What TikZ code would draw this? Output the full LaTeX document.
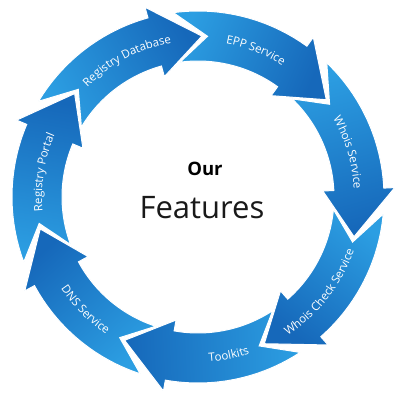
\documentclass[tikz,border=0pt]{standalone}
\usepackage{fontspec}
\setmainfont{Open Sans}
\usetikzlibrary{decorations.text}

\definecolor{arrowlight}{RGB}{44,158,226}
\definecolor{arrowdark}{RGB}{22,104,186}
\newcommand{\labelfont}{\color{white}\fontsize{11.5}{13}\selectfont}

\tikzset{
  cyclearrow/.style={draw=white,line width=1pt,line join=miter,
    top color=arrowdark,bottom color=arrowlight,shading angle=#1},
  centertext/.style={anchor=base,inner sep=0pt}
}

\begin{document}
\begin{tikzpicture}[x=1pt,y=1pt]
  \useasboundingbox (-198,-203) rectangle (209,197);

  % Seven arrows of the cycle, clockwise; \t is the tip angle.
  \foreach \t [evaluate=\t as \s using \t+51.43,
               evaluate=\t as \sh using \t-150] in
      {88.6,37.17,-14.26,-65.69,-117.11,-168.54,140.03} {
    \draw[cyclearrow=\sh] (\s+9:186)
      arc[start angle=\s+9,end angle=\t+17,radius=186]
      -- (\t+17:197) -- (\t:161) -- (\t+17:125) -- (\t+17:136)
      arc[start angle=\t+17,end angle=\s+9,radius=136]
      -- (\s-2:161) -- cycle;
  }

  % Labels on the upper arrows (read clockwise).
  \foreach \m/\txt in {117.5/Registry Database,68.5/EPP Service,
                       16.5/Whois Service,171/Registry Portal} {
    \path[decorate,decoration={text along path,text align=center,
          text={|\labelfont|\txt}}]
      (\m+40:156) arc[start angle=\m+40,end angle=\m-40,radius=156];
  }

  % Labels on the lower arrows (read anticlockwise).
  \foreach \m/\txt in {-38/Whois Check Service,-79/Toolkits,
                       -135/DNS Service} {
    \path[decorate,decoration={text along path,text align=center,
          text={|\labelfont|\txt}}]
      (\m-40:165) arc[start angle=\m-40,end angle=\m+40,radius=165];
  }

  % Centre text.
  \node[centertext,font=\bfseries\fontsize{18.5}{20}\selectfont] (our) at (7,22) {Our};
  \node[centertext,font=\fontsize{31}{34}\selectfont,text=black!90] (features) at (4,-21) {Features};
\end{tikzpicture}
\end{document}
